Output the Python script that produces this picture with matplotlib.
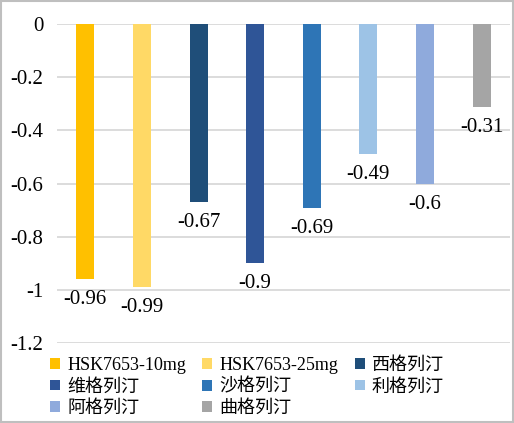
import matplotlib
matplotlib.use("Agg")
import matplotlib.pyplot as plt
from matplotlib.patches import Rectangle

# data
names = ["HSK7653-10mg", "HSK7653-25mg", "西格列汀", "维格列汀",
         "沙格列汀", "利格列汀", "阿格列汀", "曲格列汀"]
values = [-0.96, -0.99, -0.67, -0.9, -0.69, -0.49, -0.6, -0.31]
labels = ["-0.96", "-0.99", "-0.67", "-0.9", "-0.69", "-0.49", "-0.6", "-0.31"]
colors = ["#FFC000", "#FFD966", "#1F4E79", "#2F5597",
          "#2E75B6", "#9DC3E6", "#8FAADC", "#A5A5A5"]
yticks = [0, -0.2, -0.4, -0.6, -0.8, -1, -1.2]
ytick_labels = ["0", "-0.2", "-0.4", "-0.6", "-0.8", "-1", "-1.2"]

plt.rcParams['font.family'] = ['Liberation Serif', 'Noto Sans CJK SC']

fig = plt.figure(figsize=(5.14, 4.23), dpi=100)
ax = fig.add_axes([0.111, 0.189, 0.881, 0.754])

bars = []
for i, (v, c) in enumerate(zip(values, colors)):
    b = ax.bar(i, v, width=0.32, color=c, zorder=3, label=names[i])
    bars.append(b)
    ax.annotate(labels[i], (i, v), xytext=(0, -8), textcoords="offset points",
                ha="center", va="top", fontsize=15)

ax.set_xlim(-0.5, 7.5)
ax.set_ylim(-1.2, 0)
ax.set_yticks(yticks)
ax.set_yticklabels(ytick_labels, fontsize=15)
ax.set_xticks([])
ax.yaxis.grid(True, color="#D9D9D9", linewidth=1.3, zorder=0)
ax.tick_params(axis="y", length=0, pad=10)
for s in ax.spines.values():
    s.set_visible(False)

# legend filled row by row like the original
order = [0, 3, 6, 1, 4, 7, 2, 5]
handles = [bars[i] for i in order]
leg_labels = [names[i] for i in order]
fig.legend(handles, leg_labels, ncol=3, loc="lower left",
           bbox_to_anchor=(0.066, -0.025), frameon=False, fontsize=13,
           handlelength=0.55, handleheight=0.55, handletextpad=0.4,
           columnspacing=0.9, labelspacing=0.26)

fig.patches.append(Rectangle((0.002, 0.002), 0.996, 0.996, transform=fig.transFigure,
                             fill=False, edgecolor="#BFBFBF", linewidth=1.5))

fig.savefig("out.png", dpi=100)
